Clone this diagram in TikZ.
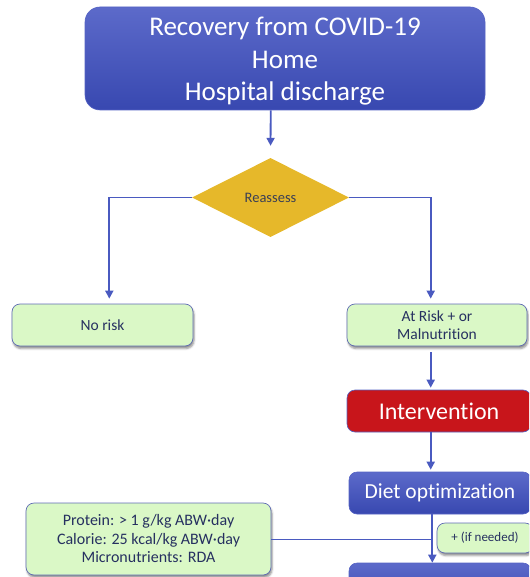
\documentclass[tikz,border=0pt]{standalone}
\usepackage{fontspec}
\setmainfont{Carlito}[Ligatures=NoCommon]
\usetikzlibrary{shapes.geometric,arrows.meta,shadows.blur}

\definecolor{linkblue}{RGB}{74,90,192}
\definecolor{boxtop}{RGB}{92,106,202}
\definecolor{boxbot}{RGB}{56,72,176}
\definecolor{boxedge}{RGB}{86,100,196}
\definecolor{alertred}{RGB}{200,21,27}
\definecolor{mintfill}{RGB}{218,248,198}
\definecolor{mintedge}{RGB}{96,108,180}
\definecolor{mintink}{RGB}{38,48,96}
\definecolor{gold}{RGB}{230,184,42}
\definecolor{goldink}{RGB}{58,63,85}

\tikzset{
  x=1pt, y=-1pt,
  bluebox/.style={rounded corners=8pt, draw=boxedge, line width=0.6pt,
    top color=boxtop, bottom color=boxbot, text=white, align=center,
    inner sep=0pt},
  redbox/.style={rounded corners=8pt, draw=boxedge, line width=0.6pt,
    fill=alertred, text=white, align=center, inner sep=0pt},
  mintbox/.style={rounded corners=8pt, draw=mintedge, line width=0.7pt,
    fill=mintfill, text=mintink, align=center, inner sep=0pt,
    blur shadow={shadow xshift=1pt, shadow yshift=-2.5pt,
      shadow blur radius=2pt, shadow opacity=45}},
  decision/.style={diamond, fill=gold, text=goldink, inner sep=0pt,
    minimum width=157pt, minimum height=79pt},
  link/.style={draw=linkblue, line width=1.8pt},
  flow/.style={link, -{Triangle[width=8pt,length=8pt]}},
}

\begin{document}
\begin{tikzpicture}
\useasboundingbox (0,0) rectangle (529,577);
\clip (0,0) rectangle (529,577);

% spine positions of the vertical connectors
\coordinate (midx)   at (270.7,0);
\coordinate (leftx)  at (109.3,0);
\coordinate (rightx) at (430.7,0);
\coordinate (lowx)   at (432.3,0);

% title box and its three lines
\node[bluebox, minimum width=400pt, minimum height=103pt,
      rounded corners=15pt] (start) at (285,58.5) {};
\node[text=white, align=center, inner sep=0pt,
      font=\fontsize{27}{32.5}\selectfont] (starttext) at (285,61.5)
  {Recovery from COVID-19\\Home\\Hospital discharge};

\node[decision, font=\fontsize{14.5}{17}\selectfont] (reassess) at (270.5,197.5) {Reassess};

\node[mintbox, minimum width=181pt, minimum height=42pt,
      font=\fontsize{15.5}{18.5}\selectfont] (norisk) at (102.5,325) {No risk};

\node[mintbox, minimum width=180pt, minimum height=42pt,
      font=\fontsize{15.5}{18.5}\selectfont] (atrisk) at (437,325)
  {At Risk + or\\Malnutrition};

\node[redbox, minimum width=184pt, minimum height=42pt,
      font=\fontsize{24}{28}\selectfont] (interv) at (439,411) {Intervention};

\node[bluebox, minimum width=182pt, minimum height=42pt,
      font=\fontsize{21.5}{25}\selectfont] (diet) at (440,493) {Diet optimization};

\node[bluebox, minimum width=182pt, minimum height=42pt] (nextstep) at (440,584) {};

\node[mintbox, minimum width=245pt, minimum height=72pt,
      font=\fontsize{16}{18.5}\selectfont] (protein) at (148.5,539)
  {Protein: > 1 g/kg ABW·day\\Calorie: 25 kcal/kg ABW·day\\Micronutrients: RDA};

% connectors
\draw[flow, shorten >=12pt] (start.south -| midx) -- (reassess.north);
\draw[flow, shorten >=5pt] (reassess.west) -- (reassess.west -| leftx) -- (norisk.north -| leftx);
\draw[flow, shorten >=5pt] (reassess.east) -- (reassess.east -| rightx) -- (atrisk.north -| rightx);
\draw[flow, shorten <=6pt, shorten >=2pt] (atrisk.south -| rightx) -- (interv.north -| rightx);
\draw[flow, shorten >=2pt] (interv.south -| rightx) -- (diet.north -| rightx);
\draw[flow] (diet.south -| lowx) -- (nextstep.north -| lowx);
\draw[link, line width=0.9pt] (protein.east) -- (protein.east -| lowx);

\node[mintbox, minimum width=96pt, minimum height=30pt,
      font=\fontsize{13}{15}\selectfont] (ifneeded) at (485,538) {+ (if needed)};
\end{tikzpicture}
\end{document}
